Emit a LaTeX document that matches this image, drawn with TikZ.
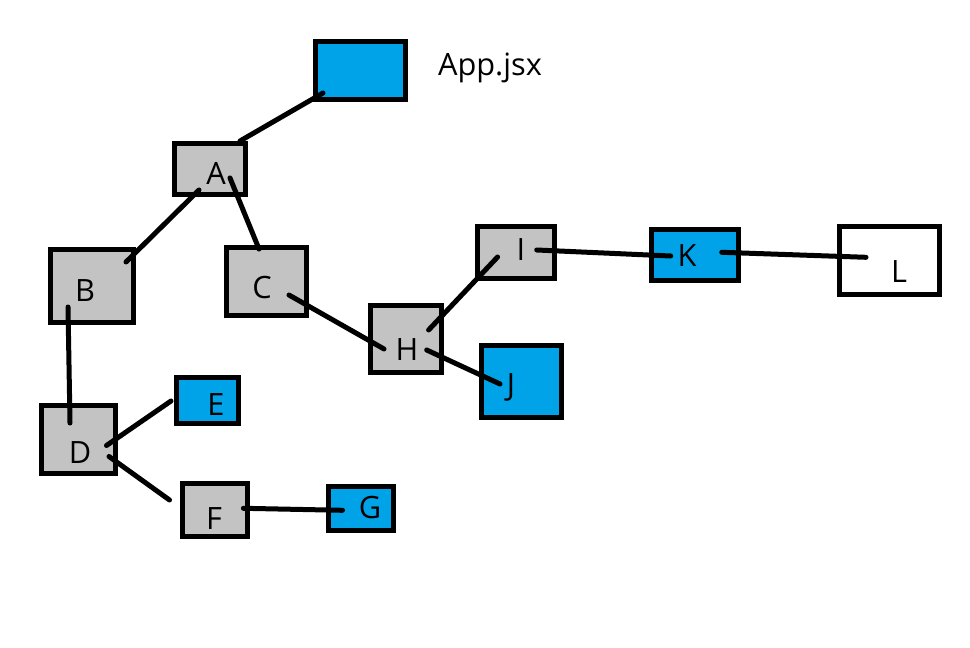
\documentclass[tikz,border=0pt]{standalone}
\usepackage{fontspec}
\setmainfont{Open Sans}
\usetikzlibrary{positioning}
\definecolor{paintblue}{HTML}{00A2E8}
\definecolor{paintgray}{HTML}{C3C3C3}
\def\px{0.02cm}
\tikzset{
     box/.style={draw, fill=#1, rectangle, line width=5*\px, inner sep=0pt},
     boxg/.style={box=paintgray},
     boxb/.style={box=paintblue},
     boxw/.style={box=white},
     lbl/.style={inner sep=0pt, font=\fontsize{17.5}{20}\selectfont},
     edge/.style={draw, line width=5*\px, line cap=round},
}
\begin{document}
\begin{tikzpicture}[x=\px, y=-\px]
	\useasboundingbox (0,0) rectangle (970,648);

	%% boxes
	\node[boxb, minimum width=90*\px, minimum height=58*\px] (App) at (360.5,70.5) {};
	\node[boxg, minimum width=71*\px, minimum height=51*\px] (A) at (210,169) {};
	\node[boxg, minimum width=83*\px, minimum height=73*\px] (B) at (92,286) {};
	\node[boxg, minimum width=80*\px, minimum height=68*\px] (C) at (266.5,281.5) {};
	\node[boxg, minimum width=74*\px, minimum height=68*\px] (D) at (78.5,439.5) {};
	\node[boxb, minimum width=62*\px, minimum height=46*\px] (E) at (207.5,400.5) {};
	\node[boxg, minimum width=65*\px, minimum height=53*\px] (F) at (215,510) {};
	\node[boxb, minimum width=65*\px, minimum height=44*\px] (G) at (361,508.5) {};
	\node[boxg, minimum width=71*\px, minimum height=67*\px] (H) at (406,339) {};
	\node[boxg, minimum width=77*\px, minimum height=52*\px] (I) at (516,252.5) {};
	\node[boxb, minimum width=80*\px, minimum height=72*\px] (J) at (521.5,381.5) {};
	\node[boxb, minimum width=87*\px, minimum height=51*\px] (K) at (695,255) {};
	\node[boxw, minimum width=100*\px, minimum height=68*\px] (L) at (889.5,260.5) {};

	%% labels
	\node[lbl] (lApp) at (490,68) {App.jsx};
	\node[lbl] (lA) at (216,173) {A};
	\node[lbl] (lB) at (85,291) {B};
	\node[lbl] (lC) at (262,288) {C};
	\node[lbl] (lD) at (80,453) {D};
	\node[lbl] (lE) at (216,405) {E};
	\node[lbl] (lF) at (214,519) {F};
	\node[lbl] (lG) at (370,508) {G};
	\node[lbl] (lH) at (407,350) {H};
	\node[lbl] (lI) at (521,250) {I};
	\node[lbl] (lJ) at (511,387) {J};
	\node[lbl] (lK) at (687,256) {K};
	\node[lbl] (lL) at (899,272) {L};

	%% connectors
	\draw[edge] ([xshift=-37.5*\px, yshift=-22.5*\px]App.center) -- ([xshift=30*\px, yshift=28*\px]A.center);
	\draw[edge] ([xshift=-11*\px, yshift=-21*\px]A.center) -- ([xshift=34*\px, yshift=24*\px]B.center);
	\draw[edge] ([xshift=20*\px, yshift=-9*\px]A.center) -- ([xshift=-7.5*\px, yshift=32.5*\px]C.center);
	\draw[edge] ([xshift=-24*\px, yshift=-21*\px]B.center) -- ([xshift=-8.5*\px, yshift=16.5*\px]D.center);
	\draw[edge] ([xshift=28*\px, yshift=-6*\px]D.center) -- ([xshift=-36.5*\px, yshift=-0.5*\px]E.center);
	\draw[edge] ([xshift=30.5*\px, yshift=-17*\px]D.center) -- ([xshift=-45.5*\px, yshift=10*\px]F.center);
	\draw[edge] ([xshift=28.4*\px, yshift=1.7*\px]F.center) -- ([xshift=-18.5*\px, yshift=-1.8*\px]G.center);
	\draw[edge] ([xshift=22.5*\px, yshift=-13.5*\px]C.center) -- ([xshift=-22*\px, yshift=-10*\px]H.center);
	\draw[edge] ([xshift=22.6*\px, yshift=9*\px]H.center) -- ([xshift=-18.4*\px, yshift=-4.5*\px]I.center);
	\draw[edge] ([xshift=20.7*\px, yshift=-11*\px]H.center) -- ([xshift=-21.5*\px, yshift=-2.5*\px]J.center);
	\draw[edge] ([xshift=20.7*\px, yshift=2.5*\px]I.center) -- ([xshift=-24.3*\px, yshift=-1*\px]K.center);
	\draw[edge] ([xshift=26.7*\px, yshift=2.7*\px]K.center) -- ([xshift=-23.5*\px, yshift=3.2*\px]L.center);
\end{tikzpicture}
\end{document}
